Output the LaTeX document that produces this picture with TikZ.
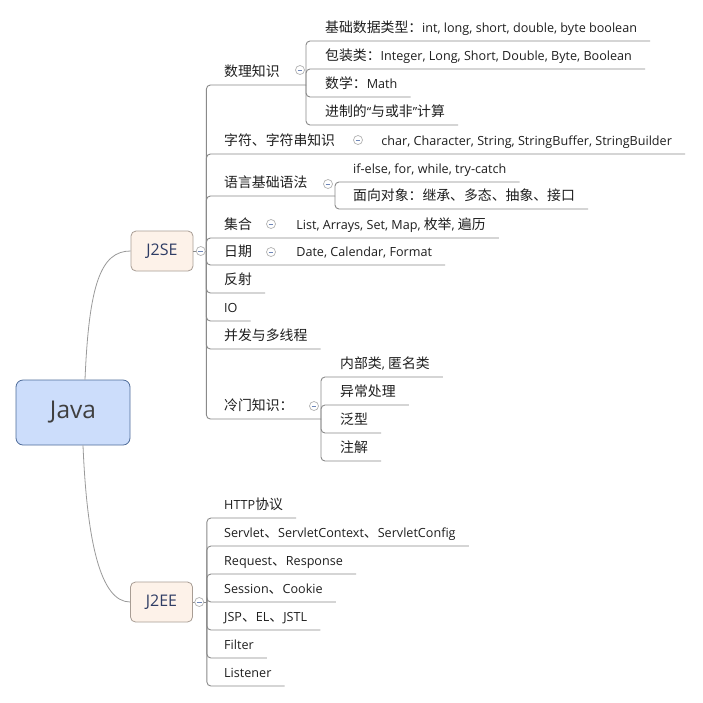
\documentclass[tikz,border=0pt]{standalone}
\usepackage{fontspec}
\setmainfont{Open Sans}
\newfontfamily\zh{Noto Sans CJK SC}[Scale=1.1]
\usetikzlibrary{positioning,calc}

\definecolor{javafill}{HTML}{CCDDFB}
\definecolor{javaline}{HTML}{4F6C9A}
\definecolor{javatext}{HTML}{3F3F3F}
\definecolor{subfill}{HTML}{FDF2E9}
\definecolor{subline}{HTML}{A89D94}
\definecolor{subtext}{HTML}{2E3C64}
\definecolor{linegray}{HTML}{8A8A8A}
\definecolor{linkgray}{HTML}{9A9A9A}
\definecolor{foldblue}{HTML}{6E86B8}

\begin{document}
\begin{tikzpicture}[
  x=1pt, y=-1pt,
  root/.style={rectangle, draw=javaline, fill=javafill, rounded corners=7pt, minimum width=114pt, minimum height=65pt, line width=0.8pt, text=javatext, font=\fontsize{24.5}{28}\selectfont},
  major/.style={rectangle, draw=subline, fill=subfill, rounded corners=5pt, minimum width=62pt, minimum height=40pt, line width=0.8pt, text=subtext, font=\fontsize{16}{19}\selectfont},
  topic/.style={anchor=south west, inner xsep=0pt, inner ysep=0pt, text height=10pt, text depth=8pt, text=black!88, font=\fontsize{12.6}{15}\selectfont},
  fold/.style={circle, draw=gray!60, fill=white, line width=0.7pt, minimum size=9pt, inner sep=0pt,
    path picture={\draw[foldblue, line width=0.8pt] ([xshift=-2.4pt]path picture bounding box.center) -- ([xshift=2.4pt]path picture bounding box.center);}},
  branch/.style={draw=linegray, line width=0.9pt, rounded corners=4pt},
  link/.style={draw=linkgray, line width=0.8pt},
]
  \path[use as bounding box, fill=white] (0,0) rectangle (703,702);

  % central topic and main branches
  \node[root] (java) at (73,412.5) {Java};
  \node[major] (j2se) at (162,251) {J2SE};
  \node[major] (j2ee) at (161.5,602) {J2EE};
  \coordinate (seHub) at ($(j2se.east)+(13,0)$);
  \coordinate (eeHub) at ($(j2ee.east)+(14,0)$);

  \draw[link] ([xshift=12pt]java.north) .. controls +(4,-95) and +(-30,0) .. (j2se.west);
  \draw[link] ([xshift=10pt]java.south) .. controls +(4,95) and +(-30,0) .. (j2ee.west);

  % J2SE topics
  \node[topic] (numk) at (224,85) {{\zh 数理知识}};
  \node[topic] (strk) at (224,154) {{\zh 字符、字符串知识}};
  \node[topic] (lang) at (224,196) {{\zh 语言基础语法}};
  \node[topic] (coll) at (224,238) {{\zh 集合}};
  \node[topic] (date) at (224,265) {{\zh 日期}};
  \node[topic] (refl) at (224,293) {{\zh 反射}};
  \node[topic] (io) at (224,321) {IO};
  \node[topic] (conc) at (224,349) {{\zh 并发与多线程}};
  \node[topic] (cold) at (224,419) {{\zh 冷门知识：}};

  \node[topic, right=46pt of strk] (strx) {char, Character, String, StringBuffer, StringBuilder};
  \node[topic, right=44pt of coll] (collx) {List, Arrays, Set, Map, {\zh 枚举}, {\zh 遍历}};
  \node[topic, right=44pt of date] (datex) {Date, Calendar, Format};

  \coordinate (numHub) at (306,85);
  \coordinate (langHub) at (335,196);
  \coordinate (coldHub) at (321,419);

  \node[topic] (basic) at (325,41) {{\zh 基础数据类型：}int, long, short, double, byte boolean};
  \node[topic] (wrap) at (325,69) {{\zh 包装类：}Integer, Long, Short, Double, Byte, Boolean};
  \node[topic] (math) at (325,97) {{\zh 数学：}Math};
  \node[topic] (radix) at (325,125) {{\zh 进制的}“{\zh 与或非}”{\zh 计算}};

  \node[topic] (ctrl) at (353,182) {if-else, for, while, try-catch};
  \node[topic] (oop) at (353,209) {{\zh 面向对象：继承、多态、抽象、接口}};

  \node[topic] (innr) at (340,377) {{\zh 内部类}, {\zh 匿名类}};
  \node[topic] (exc) at (340,405) {{\zh 异常处理}};
  \node[topic] (gen) at (340,433) {{\zh 泛型}};
  \node[topic] (anno) at (340,461) {{\zh 注解}};

  % J2EE topics
  \node[topic] (http) at (224,518) {HTTP{\zh 协议}};
  \node[topic] (servlet) at (224,546) {Servlet{\zh 、}ServletContext{\zh 、}ServletConfig};
  \node[topic] (req) at (224,574) {Request{\zh 、}Response};
  \node[topic] (sess) at (224,602) {Session{\zh 、}Cookie};
  \node[topic] (jsp) at (224,630) {JSP{\zh 、}EL{\zh 、}JSTL};
  \node[topic] (filter) at (224,658) {Filter};
  \node[topic] (listen) at (224,686) {Listener};

  % connectors
  \draw[branch] (j2se.east) -- (seHub);
  \draw[branch] (j2ee.east) -- (eeHub);
  \foreach \t/\e in {strk/strx, coll/collx, date/datex, refl/refl, io/io, conc/conc}
    \draw[branch] (seHub) |- ([xshift=13pt]\e.south east);
  \foreach \h in {numHub, langHub, coldHub}
    \draw[branch] (seHub) |- (\h);
  \foreach \t in {basic, wrap, math, radix}
    \draw[branch] (numHub) |- ([xshift=13pt]\t.south east);
  \foreach \t in {ctrl, oop}
    \draw[branch] (langHub) |- ([xshift=13pt]\t.south east);
  \foreach \t in {innr, exc, gen, anno}
    \draw[branch] (coldHub) |- ([xshift=13pt]\t.south east);
  \foreach \t in {http, servlet, req, sess, jsp, filter, listen}
    \draw[branch] (eeHub) |- ([xshift=13pt]\t.south east);

  % collapse markers
  \node[fold, right=2.5pt of j2se] (seFold) {};
  \node[fold, right=1.5pt of j2ee] (eeFold) {};
  \node[fold] (numFold) at (300,70) {};
  \node[fold] (strFold) at (358,140) {};
  \node[fold] (langFold) at (328,184) {};
  \node[fold] (collFold) at (271,224) {};
  \node[fold] (dateFold) at (271,252) {};
  \node[fold] (coldFold) at (314,406) {};
\end{tikzpicture}
\end{document}
